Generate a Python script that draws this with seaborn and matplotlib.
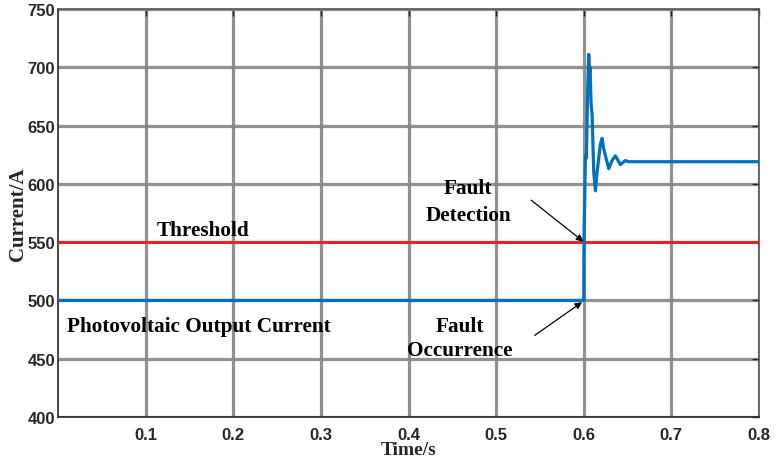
import matplotlib
matplotlib.use("Agg")
import matplotlib.pyplot as plt
import seaborn as sns
import pandas as pd

# Photovoltaic output current: steady 500 A, fault at t = 0.6 s, damped transient to ~619 A
time_s = [0.0, 0.5995, 0.6000, 0.6003, 0.6019, 0.6030, 0.6045, 0.6057, 0.6065,
          0.6072, 0.6084, 0.6095, 0.6114, 0.6133, 0.6152, 0.6190, 0.6209, 0.6228,
          0.6285, 0.6323, 0.6361, 0.6399, 0.6418, 0.6475, 0.6513, 0.8]
current_a = [500, 500, 500, 555, 624, 622, 682, 711, 695,
             700, 668, 660, 610, 594, 610, 634, 639, 630,
             613, 620, 624, 619, 616.5, 620, 619, 619]

# Detection threshold
threshold_t = [0.0, 0.8]
threshold_a = [550, 550]

x_ticks = [0.1, 0.2, 0.3, 0.4, 0.5, 0.6, 0.7, 0.8]
y_ticks = [400, 450, 500, 550, 600, 650, 700, 750]

sns.set_style("white")
serif = ["Liberation Serif", "DejaVu Serif"]
sans = ["Liberation Sans", "DejaVu Sans"]

fig = plt.figure(figsize=(7.79, 4.60), dpi=100)
ax = fig.add_axes([58 / 779, 42 / 460, 701 / 779, 408 / 460])

current_df = pd.DataFrame({"Time": time_s, "Current": current_a})
threshold_df = pd.DataFrame({"Time": threshold_t, "Current": threshold_a})

sns.lineplot(data=threshold_df, x="Time", y="Current", ax=ax, color="#ee1c25",
             linewidth=2.0, estimator=None, sort=False, zorder=3)
sns.lineplot(data=current_df, x="Time", y="Current", ax=ax, color="#0072BD",
             linewidth=2.3, estimator=None, sort=False, zorder=4)

ax.set_xlim(0, 0.8)
ax.set_ylim(400, 750)
ax.set_xticks(x_ticks)
ax.set_yticks(y_ticks)
ax.set_xticklabels([f"{v:.1f}" for v in x_ticks])
ax.set_yticklabels([str(v) for v in y_ticks])

ax.grid(True, color="#858585", linewidth=2.3, alpha=0.9, zorder=0)
ax.set_axisbelow(True)
for side, sp in ax.spines.items():
    sp.set_visible(True)
    sp.set_linewidth(1.2)
    sp.set_color("#262626" if side in ("left", "bottom") else "#555555")

ax.tick_params(axis="both", which="major", direction="in", length=5, width=1,
               colors="#262626", top=True, right=True, pad=4)
for lab in ax.get_xticklabels() + ax.get_yticklabels():
    lab.set_fontfamily(sans)
    lab.set_fontweight("bold")
    lab.set_fontsize(12)
    lab.set_color("#262626")
ax.tick_params(axis="x", pad=7)
ax.tick_params(axis="y", pad=2)

ax.set_xlabel("Time/s", fontfamily=serif, fontweight="bold", fontsize=14,
              va="bottom")
ax.xaxis.set_label_coords(0.5, -41 / 408)
ax.set_ylabel("Current/A", fontfamily=serif, fontweight="bold", fontsize=15, labelpad=0)

txt = dict(fontfamily=serif, fontweight="bold", fontsize=15.3, color="black", zorder=6)
ax.text(0.1655, 556.5, "Threshold", ha="center", va="baseline", **txt)
ax.text(0.0099, 474, "Photovoltaic Output Current", ha="left", va="baseline", **txt)
ax.text(0.468, 592.4, "Fault", ha="center", va="baseline", **txt)
ax.text(0.468, 568.8, "Detection", ha="center", va="baseline", **txt)
ax.text(0.459, 474, "Fault", ha="center", va="baseline", **txt)
ax.text(0.459, 453.3, "Occurrence", ha="center", va="baseline", **txt)

arrow = dict(arrowstyle="-|>", color="black", lw=0.9, mutation_scale=10,
             shrinkA=0, shrinkB=0)
ax.annotate("", xy=(0.5995, 550.5), xytext=(0.540, 586), arrowprops=arrow, zorder=7)
ax.annotate("", xy=(0.598, 498.5), xytext=(0.544, 470), arrowprops=arrow, zorder=7)

fig.savefig("out.png", dpi=100)
